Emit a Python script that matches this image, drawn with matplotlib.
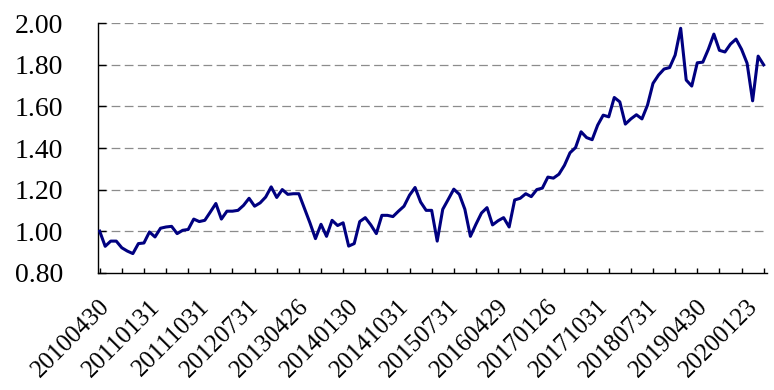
import matplotlib
matplotlib.use("Agg")
import matplotlib.pyplot as plt
import matplotlib.transforms as mtransforms
import numpy as np

values = [
    1.00, 0.927, 0.952, 0.952, 0.92, 0.904, 0.892, 0.94, 0.943, 0.996,
    0.972, 1.014, 1.02, 1.023, 0.988, 1.004, 1.008, 1.058, 1.046, 1.052,
    1.092, 1.133, 1.058, 1.096, 1.096, 1.10, 1.124, 1.158, 1.12, 1.136,
    1.164, 1.213, 1.162, 1.20, 1.177, 1.18, 1.18, 1.11, 1.04, 0.964,
    1.033, 0.975, 1.052, 1.027, 1.04, 0.928, 0.94, 1.046, 1.065, 1.03,
    0.988, 1.076, 1.076, 1.07, 1.096, 1.12, 1.173, 1.21, 1.14, 1.10,
    1.10, 0.952, 1.105, 1.153, 1.202, 1.177, 1.105, 0.975, 1.033, 1.087,
    1.113, 1.03, 1.05, 1.065, 1.02, 1.15, 1.158, 1.18, 1.166, 1.20,
    1.207, 1.26, 1.255, 1.274, 1.317, 1.377, 1.402, 1.478, 1.45, 1.44,
    1.51, 1.558, 1.55, 1.643, 1.622, 1.515, 1.54, 1.56, 1.54, 1.606,
    1.711, 1.751, 1.78, 1.787, 1.847, 1.976, 1.727, 1.698, 1.81, 1.813,
    1.875, 1.948, 1.87, 1.862, 1.90, 1.924, 1.875, 1.808, 1.627, 1.842,
    1.80,
]
tick_labels = ["20100430", "20110131", "20111031", "20120731", "20130426",
               "20140130", "20141031", "20150731", "20160429", "20170126",
               "20171031", "20180731", "20190430", "20200123"]
label_step = 9
tick_step = 4
y_ticks = [0.80, 1.00, 1.20, 1.40, 1.60, 1.80, 2.00]

plt.rcParams['font.family'] = ['Liberation Serif', 'DejaVu Serif']

fig = plt.figure(figsize=(7.74, 3.90), dpi=100)
ax = fig.add_axes([98/774, 1 - 272.7/390, (767-98)/774, (272.7-23.3)/390])

x = np.arange(len(values))
ax.plot(x, values, color='#000080', lw=2.2, solid_joinstyle='round', zorder=3)

ax.set_ylim(0.80, 2.00)
ax.set_xlim(-0.3, len(values) - 1 + 0.6)
ax.set_yticks(y_ticks)
ax.set_yticklabels([f"{v:.2f}" for v in y_ticks], fontsize=20)
for v in y_ticks[1:]:
    ax.axhline(v, color='#8c8c8c', lw=0.9, linestyle=(0, (7, 3.5)), zorder=1)

ax.xaxis.remove_overlapping_locs = False
ax.set_xticks(np.arange(0, len(values), tick_step))
ax.set_xticklabels([])
ax.tick_params(axis='x', which='major', direction='in', length=3.6, width=1)
ax.tick_params(axis='y', direction='in', length=6, width=1, pad=25)

trans = ax.get_xaxis_transform() + mtransforms.ScaledTranslation(-1/100, -23/100, fig.dpi_scale_trans)
for k, lab in enumerate(tick_labels):
    ax.text(k * label_step, 0, lab, rotation=45, ha='right', va='top',
            rotation_mode='anchor', fontsize=18, transform=trans)

for s in ['top', 'right']:
    ax.spines[s].set_visible(False)
for s in ['left', 'bottom']:
    ax.spines[s].set_color('black')
    ax.spines[s].set_linewidth(1.0)

fig.savefig("out.png", dpi=100)
